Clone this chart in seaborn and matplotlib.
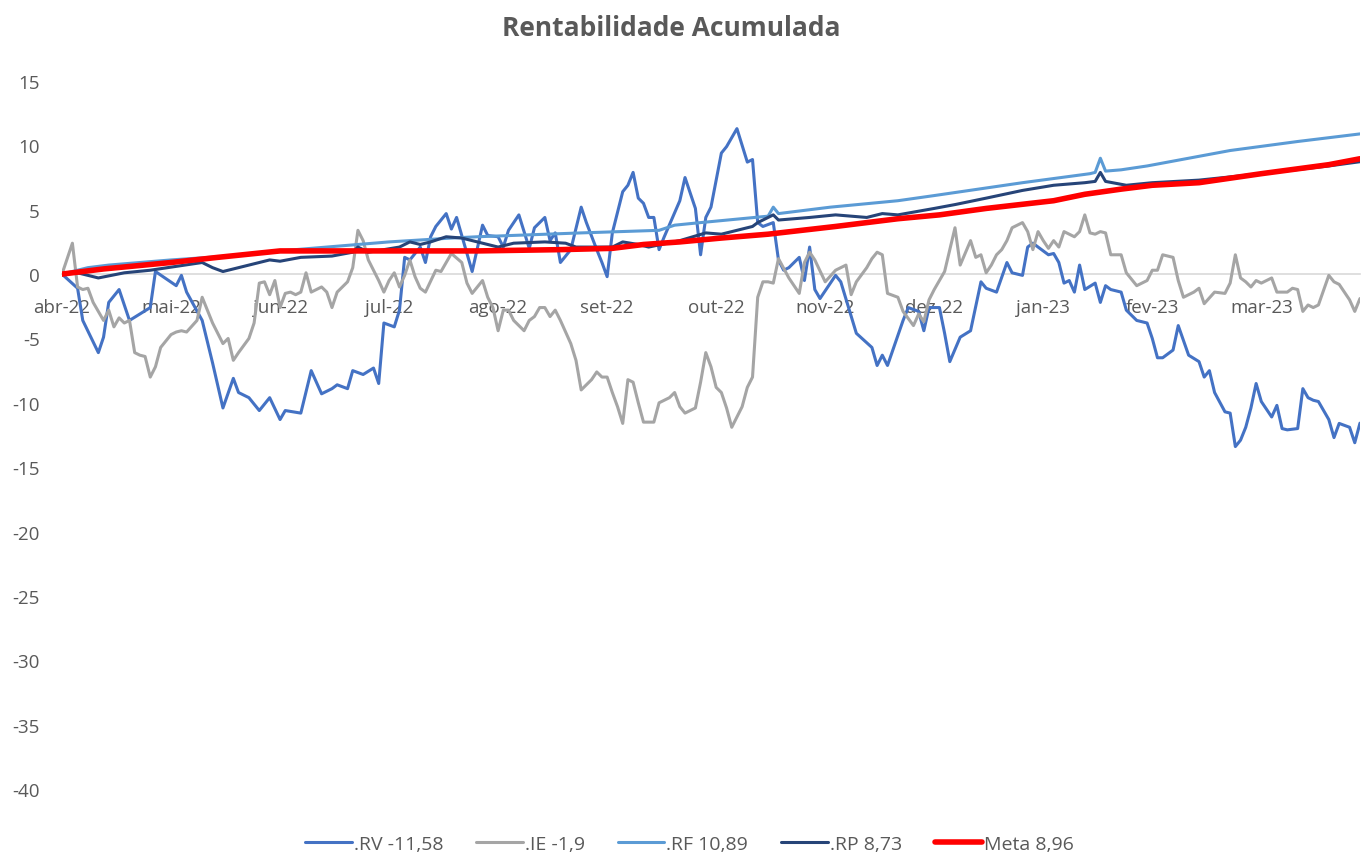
import matplotlib
matplotlib.use("Agg")
import matplotlib.pyplot as plt
import seaborn as sns

sns.set_style("white")
plt.rcParams['font.family'] = ['Open Sans', 'DejaVu Sans']
plt.rcParams['axes.unicode_minus'] = False

# trading-day index (0 = start of abr-22) and accumulated return (%)
month_labels = ['abr-22', 'mai-22', 'jun-22', 'jul-22', 'ago-22', 'set-22',
                'out-22', 'nov-22', 'dez-22', 'jan-23', 'fev-23', 'mar-23']

rv_day = [0, 3, 4, 7, 8, 9, 11, 13, 17, 18, 22, 23, 24, 27, 29, 31, 33, 34, 36, 38,
          40, 42, 43, 46, 48, 50, 52, 53, 55, 56, 58, 60, 61, 62, 64, 65, 66, 67, 69, 70,
          71, 72, 73, 74, 75, 76, 77, 79, 81, 82, 84, 85, 86, 88, 90, 91, 93, 94, 95, 96,
          98, 100, 101, 103, 104, 105, 106, 108, 109, 110, 111, 112, 113, 114, 115, 116,
          119, 120, 122, 123, 124, 125, 127, 128, 130, 132, 133, 134, 135, 137, 138, 139,
          140, 142, 143, 144, 145, 146, 149, 150, 153, 156, 157, 158, 159, 162, 163, 165,
          166, 167, 169, 170, 171, 173, 175, 177, 178, 180, 182, 183, 185, 186, 187, 190,
          191, 192, 193, 194, 195, 196, 197, 199, 200, 201, 202, 204, 205, 207, 209, 210,
          211, 212, 214, 215, 217, 219, 220, 221, 222, 224, 225, 226, 227, 228, 229, 230,
          231, 233, 234, 235, 236, 238, 239, 240, 241, 242, 244, 245, 246, 248, 249, 250]
rv_val = [0.0, -1.1, -3.6, -6.1, -4.9, -2.2, -1.2, -3.6, -2.6, 0.2, -0.9, -0.1, -1.4, -3.6,
          -6.9, -10.4, -8.1, -9.2, -9.6, -10.6, -9.6, -11.3, -10.6, -10.8, -7.5, -9.3, -8.9,
          -8.6, -8.9, -7.5, -7.8, -7.3, -8.5, -3.8, -4.1, -2.8, 1.3, 1.1, 2.1, 0.9, 2.9, 3.7,
          4.2, 4.7, 3.5, 4.4, 3.0, 0.2, 3.8, 3.0, 2.9, 2.1, 3.4, 4.6, 2.0, 3.6, 4.4, 2.6, 3.2,
          0.9, 1.9, 5.2, 4.0, 1.9, 0.9, -0.2, 3.2, 6.4, 6.9, 7.9, 5.9, 5.5, 4.4, 4.4, 1.9,
          2.9, 5.7, 7.5, 5.1, 1.5, 4.4, 5.2, 9.4, 9.9, 11.3, 8.7, 8.9, 4.0, 3.7, 4.0, 1.1,
          0.3, 0.5, 1.3, -0.5, 2.1, -1.2, -1.9, -0.1, -0.6, -4.6, -5.7, -7.1, -6.3, -7.1,
          -3.6, -2.6, -2.9, -4.4, -2.6, -2.6, -4.6, -6.8, -4.9, -4.4, -0.6, -1.1, -1.4, 0.9,
          0.1, -0.1, 2.1, 2.4, 1.5, 1.6, 0.9, -0.7, -0.5, -1.4, 0.7, -1.2, -0.7, -2.2, -0.9,
          -1.2, -1.4, -2.8, -3.6, -3.8, -5.0, -6.5, -6.5, -5.9, -4.0, -6.3, -6.8, -8.0, -7.5,
          -9.2, -10.7, -10.8, -13.4, -12.9, -11.9, -10.4, -8.5, -9.9, -11.1, -10.2, -12.0,
          -12.1, -12.0, -8.9, -9.6, -9.8, -9.9, -11.3, -12.7, -11.6, -11.9, -13.1, -11.58]

ie_day = [0, 2, 3, 4, 5, 6, 8, 9, 10, 11, 12, 13, 14, 15, 16, 17, 18, 19, 21, 22, 23, 24,
          26, 27, 28, 29, 31, 32, 33, 34, 36, 37, 38, 39, 40, 41, 42, 43, 44, 45, 46, 47,
          48, 50, 51, 52, 53, 55, 56, 57, 58, 59, 61, 62, 63, 64, 65, 66, 67, 68, 69, 70,
          72, 73, 74, 75, 77, 78, 79, 81, 82, 83, 84, 85, 86, 87, 89, 90, 91, 92, 93, 94,
          95, 96, 98, 99, 100, 102, 103, 104, 105, 106, 107, 108, 109, 110, 111, 112, 114,
          115, 117, 118, 119, 120, 122, 123, 124, 125, 126, 127, 128, 129, 131, 132, 133,
          134, 135, 136, 137, 138, 140, 142, 143, 144, 145, 147, 149, 150, 151, 152, 153,
          155, 156, 157, 158, 159, 161, 162, 164, 165, 166, 167, 168, 170, 172, 173, 175,
          176, 177, 178, 179, 180, 181, 182, 183, 185, 186, 187, 188, 189, 190, 191, 192,
          193, 194, 195, 196, 197, 198, 199, 200, 201, 202, 204, 205, 207, 209, 210, 211,
          212, 214, 215, 216, 218, 219, 220, 222, 224, 225, 226, 227, 228, 229, 230, 231,
          233, 234, 236, 237, 238, 239, 240, 241, 242, 244, 245, 246, 248, 249, 250]
ie_val = [0.0, 2.4, -1.0, -1.2, -1.1, -2.2, -3.6, -2.8, -4.1, -3.4, -3.8, -3.6, -6.1, -6.3,
          -6.4, -8.0, -7.2, -5.7, -4.7, -4.5, -4.4, -4.5, -3.6, -1.8, -2.8, -3.8, -5.4, -5.0,
          -6.7, -6.1, -5.0, -3.8, -0.7, -0.6, -1.6, -0.5, -2.6, -1.5, -1.4, -1.6, -1.4, 0.1,
          -1.4, -1.0, -1.4, -2.6, -1.4, -0.6, 0.5, 3.4, 2.6, 1.1, -0.5, -1.4, -0.5, 0.1, -1.0,
          -0.1, 1.1, -0.2, -1.1, -1.4, 0.3, 0.2, 0.9, 1.6, 0.9, -0.7, -1.5, -0.5, -1.8, -2.6,
          -4.4, -2.8, -2.8, -3.6, -4.4, -3.6, -3.3, -2.6, -2.6, -3.3, -2.8, -3.6, -5.4, -6.7,
          -9.0, -8.2, -7.6, -8.0, -8.0, -9.2, -10.3, -11.6, -8.2, -8.4, -10.0, -11.5, -11.5,
          -10.0, -9.6, -9.2, -10.3, -10.8, -10.4, -8.4, -6.1, -7.2, -8.8, -9.2, -10.4, -11.9,
          -10.3, -8.8, -8.0, -1.8, -0.6, -0.6, -0.7, 1.2, -0.3, -1.5, 0.9, 1.7, 1.1, -0.6,
          0.3, 0.5, 0.7, -1.6, -0.6, 0.5, 1.2, 1.7, 1.5, -1.5, -1.8, -2.9, -4.0, -3.1, -3.7,
          -2.0, -1.2, 0.2, 3.6, 0.7, 2.6, 1.3, 1.5, 0.1, 0.7, 1.5, 1.9, 2.6, 3.6, 4.0, 3.3,
          1.9, 3.3, 2.6, 2.0, 2.6, 2.1, 3.3, 3.1, 2.9, 3.3, 4.6, 3.2, 3.1, 3.3, 3.2, 1.5,
          1.5, 0.1, -0.9, -0.5, 0.3, 0.3, 1.5, 1.3, -0.5, -1.8, -1.4, -1.1, -2.3, -1.4, -1.5,
          -0.7, 1.5, -0.3, -0.6, -1.0, -0.5, -0.7, -0.3, -1.4, -1.4, -1.1, -1.2, -2.9, -2.4,
          -2.6, -2.4, -0.1, -0.6, -0.8, -2.0, -2.9, -1.9]

rf_day = [0, 5, 9, 21, 32, 42, 57, 63, 75, 80, 100, 115, 118, 123, 136, 137, 138, 148,
          161, 168, 185, 198, 199, 200, 201, 204, 209, 225, 238, 250]
rf_val = [0.0, 0.5, 0.7, 1.1, 1.4, 1.8, 2.3, 2.5, 2.8, 2.9, 3.2, 3.4, 3.8, 4.0, 4.5, 5.2,
          4.7, 5.2, 5.7, 6.1, 7.1, 7.8, 7.9, 9.0, 8.0, 8.1, 8.4, 9.6, 10.3, 10.89]

rp_day = [0, 3, 7, 12, 17, 27, 29, 31, 34, 40, 42, 46, 52, 56, 57, 59, 65, 67, 69, 71,
          74, 77, 79, 80, 84, 87, 93, 97, 99, 106, 108, 111, 113, 119, 124, 127, 129,
          133, 134, 137, 138, 144, 149, 155, 158, 161, 168, 172, 178, 185, 191, 197, 199,
          200, 201, 205, 210, 219, 231, 244, 250]
rp_val = [0.0, 0.1, -0.3, 0.1, 0.3, 0.9, 0.5, 0.2, 0.5, 1.1, 1.0, 1.3, 1.4, 1.7, 2.1, 1.7,
          2.1, 2.5, 2.3, 2.5, 2.9, 2.8, 2.6, 2.5, 2.1, 2.4, 2.5, 2.4, 2.1, 2.1, 2.5, 2.3, 2.1,
          2.6, 3.2, 3.1, 3.3, 3.7, 4.0, 4.6, 4.2, 4.4, 4.6, 4.4, 4.7, 4.6, 5.1, 5.4, 5.9, 6.5,
          6.9, 7.1, 7.2, 7.9, 7.2, 6.9, 7.1, 7.3, 7.8, 8.4, 8.73]

meta_day = [0, 8, 21, 30, 42, 60, 80, 96, 106, 112, 119, 127, 136, 149, 161, 169, 178,
            191, 197, 204, 210, 219, 231, 244, 250]
meta_val = [0.0, 0.4, 0.9, 1.3, 1.8, 1.8, 1.8, 1.9, 2.0, 2.3, 2.5, 2.8, 3.1, 3.7, 4.3, 4.6,
            5.1, 5.7, 6.2, 6.6, 6.9, 7.1, 7.8, 8.5, 8.96]

series = [
    (rv_day, rv_val, '.RV -11,58', '#4472C4', 2.2),
    (ie_day, ie_val, '.IE -1,9', '#A5A5A5', 2.2),
    (rf_day, rf_val, '.RF 10,89', '#5B9BD5', 2.2),
    (rp_day, rp_val, '.RP 8,73', '#264478', 2.2),
    (meta_day, meta_val, 'Meta 8,96', '#FF0000', 4.0),
]

fig = plt.figure(figsize=(13.62, 8.54), dpi=100)
ax = fig.add_axes([62 / 1362, 1 - 790 / 854, 1 - 62 / 1362 - 0.0015, (790 - 82) / 854])

for day, val, name, color, lw in series:
    sns.lineplot(x=day, y=val, ax=ax, color=color, linewidth=lw, label=name,
                 estimator=None, sort=False)

ax.set_xlim(0, 250)
ax.set_ylim(-40, 15)
ax.set_yticks(range(-40, 16, 5))
ax.set_xticks(range(0, 250, 21))
ax.set_xticklabels(month_labels)

for s in ['top', 'right', 'left']:
    ax.spines[s].set_visible(False)
ax.spines['bottom'].set_position(('data', 0))
ax.spines['bottom'].set_color('#d9d9d9')
ax.spines['bottom'].set_linewidth(1.2)
ax.spines['bottom'].set_zorder(0.5)
ax.tick_params(axis='x', length=5, width=1, color='#d9d9d9', pad=12,
               labelsize=13.5, labelcolor='#595959')
ax.tick_params(axis='y', length=0, pad=16, labelsize=13.5, labelcolor='#595959')
ax.set_xlabel('')
ax.set_ylabel('')

handles, labels = ax.get_legend_handles_labels()
ax.get_legend().remove()
fig.legend(handles, labels, loc='lower center', bbox_to_anchor=(0.506, -0.02), ncol=5,
           frameon=False, fontsize=14, handlelength=2.4, handletextpad=0.1,
           columnspacing=1.7, labelcolor='#595959')

fig.text(0.493, 1 - 28 / 854, 'Rentabilidade Acumulada', ha='center', va='center',
         fontsize=19, fontweight='bold', color='#595959')

fig.savefig('out.png', dpi=100)
